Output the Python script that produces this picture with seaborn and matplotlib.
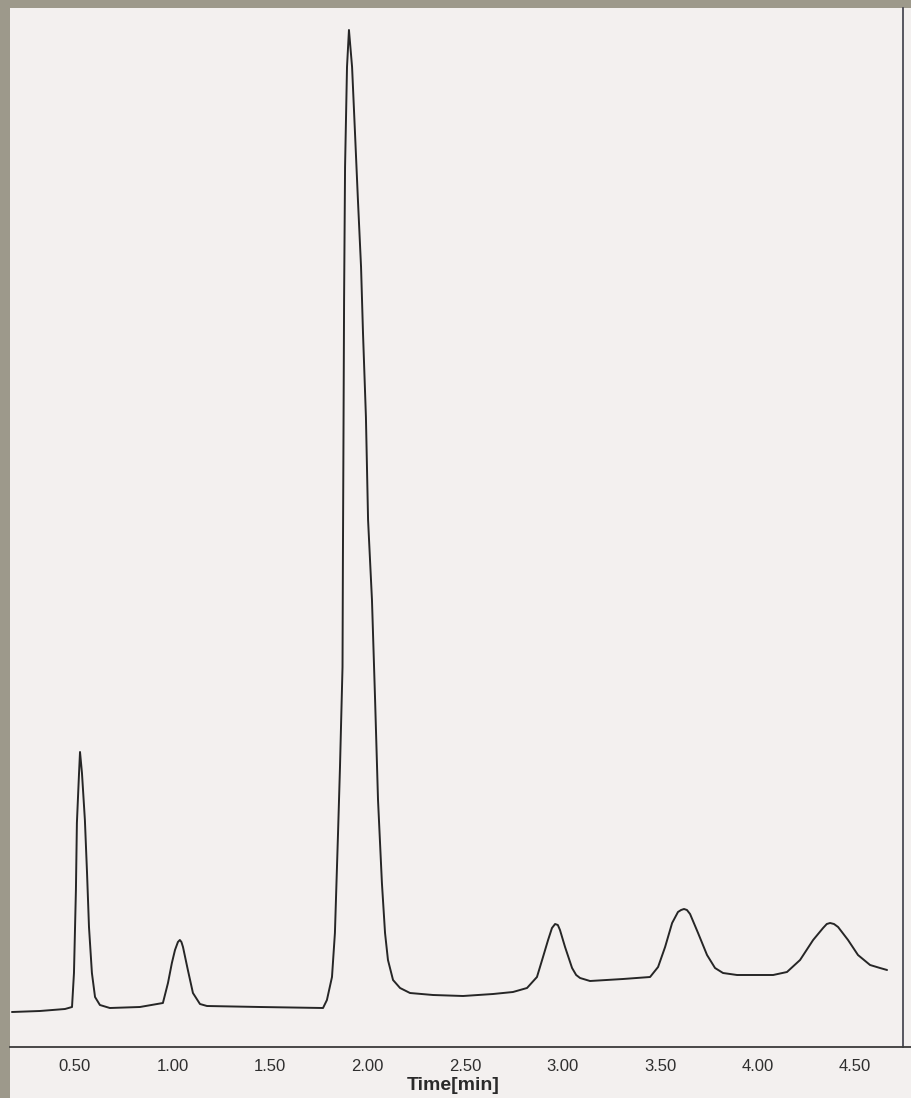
import matplotlib
matplotlib.use('Agg')
import matplotlib.pyplot as plt
import seaborn as sns
import pandas as pd

# chromatogram trace (time in min, detector signal in arbitrary units)
time_min = [0.177, 0.320, 0.449, 0.485, 0.495, 0.505, 0.510, 0.521, 0.526, 0.536,
            0.551, 0.562, 0.572, 0.587, 0.603, 0.628, 0.679, 0.833, 0.951, 0.977,
            0.997, 1.013, 1.028, 1.038, 1.046, 1.054, 1.079, 1.105, 1.141, 1.177,
            1.449, 1.772, 1.792, 1.818, 1.833, 1.849, 1.859, 1.872, 1.874, 1.877,
            1.880, 1.885, 1.895, 1.905, 1.921, 1.936, 1.951, 1.967, 1.977, 1.992,
            2.003, 2.023, 2.039, 2.054, 2.074, 2.090, 2.105, 2.131, 2.167, 2.218,
            2.336, 2.490, 2.644, 2.746, 2.818, 2.869, 2.900, 2.926, 2.946, 2.962,
            2.976, 2.987, 3.013, 3.049, 3.070, 3.090, 3.141, 3.310, 3.449, 3.490,
            3.526, 3.562, 3.592, 3.608, 3.623, 3.638, 3.654, 3.695, 3.741, 3.782,
            3.823, 3.895, 4.080, 4.151, 4.218, 4.285, 4.336, 4.355, 4.372, 4.392,
            4.413, 4.464, 4.515, 4.577, 4.628, 4.664]
signal = [-2, -1, 1, 3, 37, 120, 187, 237, 258, 237,
          190, 137, 83, 37, 13, 5, 2, 3, 7, 27,
          47, 60, 68, 70, 68, 63, 40, 17, 6, 4,
          3, 2, 10, 33, 77, 177, 243, 343, 450, 577,
          710, 843, 943, 980, 943, 877, 810, 743, 677, 593,
          490, 410, 310, 210, 127, 77, 50, 30, 22, 17,
          15, 14, 16, 18, 22, 33, 53, 70, 82, 86,
          85, 80, 63, 42, 35, 32, 29, 31, 33, 43,
          63, 87, 98, 100, 101, 100, 96, 77, 55, 42,
          37, 35, 35, 38, 50, 70, 82, 86, 87, 86,
          83, 70, 55, 45, 42, 40]

tick_vals = [0.5, 1.0, 1.5, 2.0, 2.5, 3.0, 3.5, 4.0, 4.5]
tick_labels = ['0.50', '1.00', '1.50', '2.00', '2.50', '3.00', '3.50', '4.00', '4.50']

df = pd.DataFrame({'Time[min]': time_min, 'Signal': signal})

sns.set_style('white')
plt.rcParams['font.family'] = ['Liberation Sans', 'DejaVu Sans']

W, H = 912, 1098
fig = plt.figure(figsize=(W / 100, H / 100), dpi=100, facecolor='#9d998b')
# the screen area inside the monitor bezel
ax = fig.add_axes([10 / W, 0, (W - 10) / W, (H - 8) / H], facecolor='#f3f0ef')

sns.lineplot(data=df, x='Time[min]', y='Signal', ax=ax, color='#262626',
             linewidth=1.4, estimator=None, sort=False)

ax.set_xlim(0.167, 4.792)
ax.set_ylim(-88, 1002)

for side in ['top', 'left']:
    ax.spines[side].set_visible(False)
ax.spines['bottom'].set_position(('data', -37))
ax.spines['bottom'].set_color('#3a3a3a')
ax.spines['bottom'].set_linewidth(1.3)
ax.spines['right'].set_position(('data', 4.745))
ax.spines['right'].set_bounds(-37, 1002)
ax.spines['right'].set_color('#4a4a55')
ax.spines['right'].set_linewidth(1.3)

ax.set_yticks([])
ax.set_xticks(tick_vals)
ax.set_xticklabels(tick_labels, fontsize=12, color='#2e2e2e')
ax.tick_params(axis='x', length=0, pad=8.5)

ax.set_ylabel('')
ax.set_xlabel('Time[min]', fontsize=14, fontweight='bold', color='#2a2a2a')
ax.xaxis.set_label_coords((453 - 10) / (W - 10), 21 / (H - 8))

fig.savefig('out.png', dpi=100, facecolor=fig.get_facecolor())
plt.close(fig)
